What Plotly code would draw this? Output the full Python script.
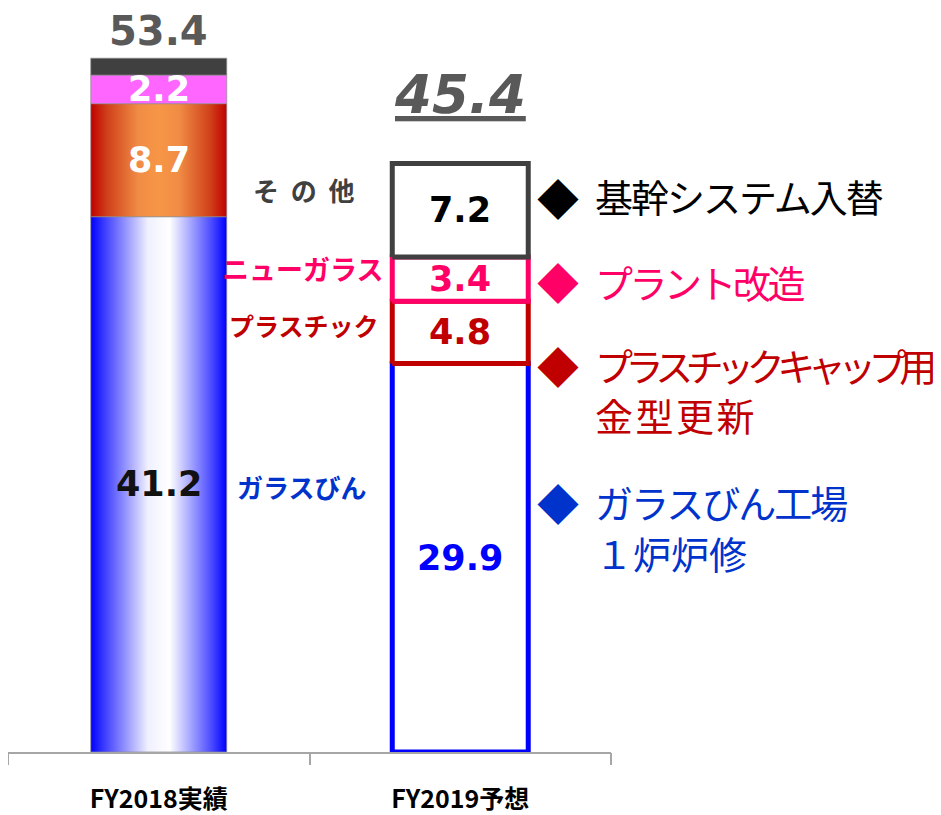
import plotly.graph_objects as go

# ---------------- data ----------------
categories = ["FY2018実績", "FY2019予想"]
segments = ["ガラスびん", "プラスチック", "ニューガラス", "その他"]
fy2018 = [41.2, 8.7, 2.2, 1.3]
fy2019 = [29.9, 4.8, 3.4, 7.2]
labels_2018 = ["41.2", "8.7", "2.2", ""]
labels_2019 = ["29.9", "4.8", "3.4", "7.2"]
totals = [53.4, 45.4]
notes = [["基幹システム入替"], ["プラント改造"], ["プラスチックキャップ用", "金型更新"], ["ガラスびん工場", "１炉炉修"]]

# ---------------- styles ----------------
PX_PER_UNIT = 13.08
PLOT_H = 749          # plot area height in px (page body adds an 8px offset)
HALF_W = 0.2255
NUM_FONT = "DejaVu Sans"
JP_FONT = "Noto Sans CJK JP"
BLUE_TXT = "#0033CC"
PINK = "#FF0066"
DRED = "#C00000"
GREY_DARK = "#404040"

grad_blue = [[0, "#0000FF"], [0.12, "#4848FF"], [0.42, "#F0F0FF"], [0.58, "#FFFFFF"], [0.88, "#5050FF"], [1, "#0000FF"]]
grad_orange = [[0, "#C00000"], [0.12, "#D0401A"], [0.35, "#F08C45"], [0.5, "#F79646"], [0.65, "#F08C45"], [0.88, "#D0401A"], [1, "#C00000"]]
fills_2018 = [dict(gradient=grad_blue), dict(gradient=grad_orange), dict(color="#FF66FF"), dict(color="#404040")]
label_colors_2018 = ["#111111", "white", "white", "white"]
border_2019 = ["#0000FF", DRED, PINK, GREY_DARK]
label_colors_2019 = ["#0000FF", DRED, PINK, "#000000"]

ymax = PLOT_H / PX_PER_UNIT


def rect(xc, y0, y1):
    return [xc - HALF_W, xc + HALF_W, xc + HALF_W, xc - HALF_W, xc - HALF_W], [y0, y0, y1, y1, y0]


fig = go.Figure()
annotations = []

# FY2018 stacked bar (gradient fills)
base = 0.0
for i, v in enumerate(fy2018):
    xs, ys = rect(0, base, base + v)
    kw = dict(x=xs, y=ys, mode="lines", fill="toself", hoverinfo="skip", showlegend=False,
              line=dict(width=1, color="rgba(140,140,140,0.7)"))
    if "gradient" in fills_2018[i]:
        kw["fillgradient"] = dict(type="horizontal", colorscale=fills_2018[i]["gradient"])
    else:
        kw["fillcolor"] = fills_2018[i]["color"]
    fig.add_trace(go.Scatter(**kw))
    if labels_2018[i]:
        annotations.append(dict(x=0, y=base + v / 2, text=labels_2018[i], showarrow=False,
                                font=dict(family=NUM_FONT, size=35, color=label_colors_2018[i], weight="bold")))
    base += v

# FY2019 stacked bar (outlined boxes)
base = 0.0
for i, v in enumerate(fy2019):
    xs, ys = rect(1, base, base + v)
    fig.add_trace(go.Scatter(x=xs, y=ys, mode="lines", fill="toself", fillcolor="white",
                             line=dict(width=5, color=border_2019[i]), hoverinfo="skip", showlegend=False))
    annotations.append(dict(x=1, y=base + v / 2, text=labels_2019[i], showarrow=False,
                            font=dict(family=NUM_FONT, size=35, color=label_colors_2019[i], weight="bold")))
    base += v

# totals
annotations.append(dict(x=0, y=totals[0], yshift=27, text=f"{totals[0]:.1f}", showarrow=False,
                        font=dict(family=NUM_FONT, size=40, color="#595959", weight="bold")))
annotations.append(dict(x=1, y=totals[1], yshift=68, text=f"<i><u>{totals[1]:.1f}</u></i>", showarrow=False,
                        font=dict(family=NUM_FONT, size=53, color="#595959", weight="bold")))


# helpers for pixel-placed text (reference-pixel positions)
def px2x(px):
    return (px - 158.75) / 301.5


def py2y(py):
    return (757 - py) / PX_PER_UNIT


# segment names next to FY2019 bar
annotations += [
    dict(x=px2x(357), y=py2y(191), text="そ\u00a0\u00a0の\u00a0\u00a0他", xanchor="right", showarrow=False,
         font=dict(family=JP_FONT, size=26, color=GREY_DARK, weight="bold")),
    dict(x=px2x(385), y=py2y(270), text="ニューガラス", xanchor="right", showarrow=False,
         font=dict(family=JP_FONT, size=27, color=PINK, weight="bold")),
    dict(x=px2x(381), y=py2y(327), text="プラスチック", xanchor="right", showarrow=False,
         font=dict(family=JP_FONT, size=25, color=DRED, weight="bold")),
    dict(x=px2x(235), y=py2y(490), text="ガラスびん", xanchor="left", showarrow=False,
         font=dict(family=JP_FONT, size=26, color=BLUE_TXT, weight="bold")),
]

# right-side notes
note_colors = ["#000000", PINK, DRED, BLUE_TXT]
note_line_y = [[197], [283], [367, 417], [505, 556]]
diamond_y = [198, 282, 367, 505]
spacings = [[-2], [-3.5], [-7.5, 2.5], [-2, 0]]
for i, lines in enumerate(notes):
    for j, ln in enumerate(lines):
        annotations.append(dict(x=px2x(593), y=py2y(note_line_y[i][j]),
                                text=f'<span style="letter-spacing:{spacings[i][j]}px">{ln}</span>',
                                xanchor="left", showarrow=False,
                                font=dict(family=JP_FONT, size=38, color=note_colors[i])))
    annotations.append(dict(x=px2x(558), y=py2y(diamond_y[i]), text="◆", showarrow=False,
                            font=dict(family=JP_FONT, size=42, color=note_colors[i])))

# invisible trace for the tick (boundary) axis
fig.add_trace(go.Scatter(x=list(range(len(categories))), y=[0] * len(categories), mode="none",
                         xaxis="x2", hoverinfo="skip", showlegend=False))

fig.update_layout(
    width=933, height=807,
    margin=dict(l=0, r=330, t=0, b=58),
    paper_bgcolor="white", plot_bgcolor="white",
    annotations=annotations,
    xaxis=dict(range=[-0.5, len(categories) - 0.5], tickvals=list(range(len(categories))), ticktext=categories,
               showline=True, linecolor="#A6A6A6", linewidth=2, ticks="", showgrid=False, zeroline=False,
               ticklabelstandoff=24,
               tickfont=dict(family=JP_FONT, size=25, color="#000000", weight="bold")),
    xaxis2=dict(range=[-0.5, len(categories) - 0.5], overlaying="x", anchor="y", side="bottom",
                tickvals=[i - 0.5 for i in range(len(categories) + 1)], ticks="outside", ticklen=12,
                tickwidth=2, tickcolor="#A6A6A6", showticklabels=False, showgrid=False, zeroline=False),
    yaxis=dict(range=[0, ymax], visible=False),
)

fig.write_html("out.html")
